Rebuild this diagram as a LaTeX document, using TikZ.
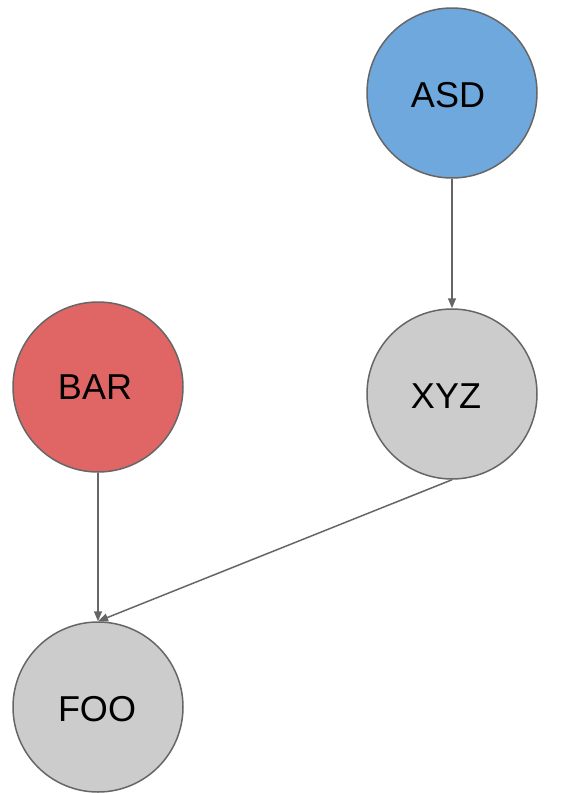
\documentclass[tikz,border=0pt]{standalone}
\usepackage{fontspec}
\setmainfont{Liberation Sans}
\usetikzlibrary{arrows.meta}
\begin{document}
\begin{tikzpicture}[x=1pt,y=-1pt,
  circ/.style={circle,draw=black!60,line width=1.5pt,minimum size=170pt,inner sep=0pt,font=\fontsize{36}{40}\selectfont},
  conn/.style={draw=black!60,line width=1.5pt,-{Triangle[length=10pt,width=8pt]}}]
\useasboundingbox (0,0) rectangle (563,793);
\node[circ,fill={rgb,255:red,111;green,168;blue,220}] (asd) at (452,93) {};
\node at (448,95) [font=\fontsize{36}{40}\selectfont] (asdl) {ASD};
\node[circ,fill={rgb,255:red,224;green,102;blue,102}] (bar) at (98,387) {};
\node at (95,387) [font=\fontsize{36}{40}\selectfont] (barl) {BAR};
\node[circ,fill={rgb,255:red,204;green,204;blue,204}] (xyz) at (452,394) {};
\node at (446,396) [font=\fontsize{36}{40}\selectfont] (xyzl) {XYZ};
\node[circ,fill={rgb,255:red,204;green,204;blue,204}] (foo) at (98,707) {};
\node at (97,709) [font=\fontsize{36}{40}\selectfont] (fool) {FOO};
\draw[conn] (asd.south) -- (xyz.north);
\draw[conn] (bar.south) -- (foo.north);
\draw[conn] (xyz.south) -- (foo.north);
\end{tikzpicture}
\end{document}
